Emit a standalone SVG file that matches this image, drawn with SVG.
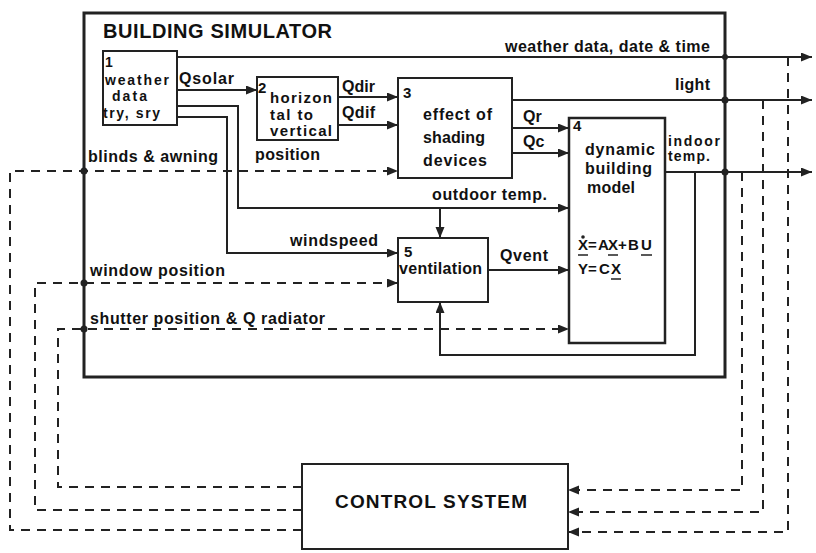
<svg xmlns="http://www.w3.org/2000/svg" width="816" height="553" viewBox="0 0 816 553">
<defs>
<marker id="ah" markerUnits="userSpaceOnUse" markerWidth="12" markerHeight="10" refX="11" refY="4.5" orient="auto">
<path d="M0,0 L11,4.5 L0,9 Z" fill="#222"/>
</marker>
<style>
.t{font-family:"Liberation Sans",Arial,Helvetica,sans-serif;font-weight:bold;font-size:15px;fill:#111}
.lb{font-size:16px}
.box{fill:#fff;stroke:#222;stroke-width:2}
.ln{fill:none;stroke:#222;stroke-width:2}
.dl{fill:none;stroke:#222;stroke-width:2;stroke-dasharray:9 7}
.dot{fill:#222}
</style>
</defs>
<rect width="816" height="553" fill="#fff"/>

<g id="simulator">
<rect x="84" y="13" width="641" height="364" fill="none" stroke="#222" stroke-width="3"/>
<text class="t" x="103" y="38" textLength="229" style="font-size:20px">BUILDING SIMULATOR</text>
</g>

<g id="connectors">
<polyline class="ln" points="177,57 812,57" marker-end="url(#ah)"/>
<polyline class="ln" points="177,90 257,90" marker-end="url(#ah)"/>
<polyline class="ln" points="177,106 238,106 238,208 569,208" marker-end="url(#ah)"/>
<polyline class="ln" points="440,208 440,238" marker-end="url(#ah)"/>
<polyline class="ln" points="177,117 227,117 227,253 398,253" marker-end="url(#ah)"/>
<polyline class="ln" points="338,97 398,97" marker-end="url(#ah)"/>
<polyline class="ln" points="338,125 398,125" marker-end="url(#ah)"/>
<polyline class="ln" points="512,100 812,100" marker-end="url(#ah)"/>
<polyline class="ln" points="512,128 569,128" marker-end="url(#ah)"/>
<polyline class="ln" points="512,153 569,153" marker-end="url(#ah)"/>
<polyline class="ln" points="488,270 569,270" marker-end="url(#ah)"/>
<polyline class="ln" points="665,172 812,172" marker-end="url(#ah)"/>
<polyline class="ln" points="695,172 695,355 440,355 440,302" marker-end="url(#ah)"/>
<polyline class="dl" points="302,530 10,530 10,171 398,171" marker-end="url(#ah)"/>
<polyline class="dl" points="302,510 35,510 35,283 398,283" marker-end="url(#ah)"/>
<polyline class="dl" points="302,487 58,487 58,329 569,329" marker-end="url(#ah)"/>
<polyline class="dl" points="742,172 742,490 568,490" marker-end="url(#ah)"/>
<polyline class="dl" points="763,100 763,512 568,512" marker-end="url(#ah)"/>
<polyline class="dl" points="788,57 788,532 568,532" marker-end="url(#ah)"/>
<circle class="dot" cx="84" cy="171" r="3.5"/>
<circle class="dot" cx="84" cy="283" r="3.5"/>
<circle class="dot" cx="84" cy="329" r="3.5"/>
<circle class="dot" cx="725" cy="57" r="3"/>
<circle class="dot" cx="725" cy="100" r="3.5"/>
<circle class="dot" cx="725" cy="172" r="3.5"/>
<text class="t lb" x="179" y="84" textLength="55">Qsolar</text>
<text class="t lb" x="342" y="92" textLength="33">Qdir</text>
<text class="t lb" x="342" y="118" textLength="33">Qdif</text>
<text class="t lb" x="255" y="160" textLength="65">position</text>
<text class="t lb" x="88" y="162" textLength="130">blinds &amp; awning</text>
<text class="t lb" x="432" y="200" textLength="115">outdoor temp.</text>
<text class="t lb" x="290" y="246" textLength="88">windspeed</text>
<text class="t lb" x="500" y="261" textLength="48">Qvent</text>
<text class="t lb" x="90" y="276" textLength="135">window position</text>
<text class="t lb" x="90" y="324" textLength="235">shutter position &amp; Q radiator</text>
<text class="t lb" x="505" y="52" textLength="205">weather data, date &amp; time</text>
<text class="t lb" x="675" y="90" textLength="35">light</text>
<text class="t lb" x="523" y="122">Qr</text>
<text class="t lb" x="523" y="147">Qc</text>
<text class="t" x="668" y="146" textLength="52" style="font-size:14px">indoor</text>
<text class="t" x="668" y="161" textLength="42" style="font-size:14px">temp.</text>
</g>

<g id="n1-weather">
<rect class="box" x="103" y="51" width="74" height="74"/>
<text class="t" x="105" y="67" style="font-size:14px">1</text>
<text class="t" x="105" y="85" textLength="64" style="font-size:14px">weather</text>
<text class="t" x="112" y="101" textLength="35" style="font-size:14px">data</text>
<text class="t" x="103" y="118" textLength="57" style="font-size:14px">try, sry</text>
</g>

<g id="n2-horizontal">
<rect class="box" x="257" y="77" width="81" height="63"/>
<text class="t" x="258" y="93">2</text>
<text class="t" x="270" y="103" textLength="62">horizon</text>
<text class="t" x="270" y="120" textLength="43">tal to</text>
<text class="t" x="270" y="136" textLength="62">vertical</text>
</g>

<g id="n3-shading">
<rect class="box" x="398" y="78" width="114" height="100"/>
<text class="t" x="403" y="98">3</text>
<text class="t lb" x="423" y="120" textLength="69">effect of</text>
<text class="t lb" x="423" y="143" textLength="62">shading</text>
<text class="t lb" x="423" y="166" textLength="64">devices</text>
</g>

<g id="n4-building">
<rect class="box" x="569" y="118" width="96" height="225" style="stroke-width:2.5"/>
<text class="t" x="573" y="131">4</text>
<text class="t lb" x="585" y="155" textLength="70">dynamic</text>
<text class="t lb" x="585" y="174" textLength="67">building</text>
<text class="t lb" x="587" y="193" textLength="48">model</text>
<text class="t" x="578 588 598 608 618 628 641" y="250">X=AX+BU</text>
<circle class="dot" cx="583" cy="237" r="1.8"/>
<line class="ln" x1="578" y1="255" x2="588" y2="255" style="stroke-width:1.5"/>
<line class="ln" x1="608" y1="255" x2="618" y2="255" style="stroke-width:1.5"/>
<line class="ln" x1="641" y1="255" x2="652" y2="255" style="stroke-width:1.5"/>
<text class="t" x="578 588 599 611" y="274">Y=CX</text>
<line class="ln" x1="611" y1="279" x2="621" y2="279" style="stroke-width:1.5"/>
</g>

<g id="n5-ventilation">
<rect class="box" x="398" y="238" width="90" height="64"/>
<text class="t" x="404" y="257">5</text>
<text class="t lb" x="399" y="274" textLength="83">ventilation</text>
</g>

<g id="control-system">
<rect class="box" x="302" y="464" width="266" height="85"/>
<text class="t" x="335" y="508" textLength="192" style="font-size:19px">CONTROL SYSTEM</text>
</g>
</svg>
